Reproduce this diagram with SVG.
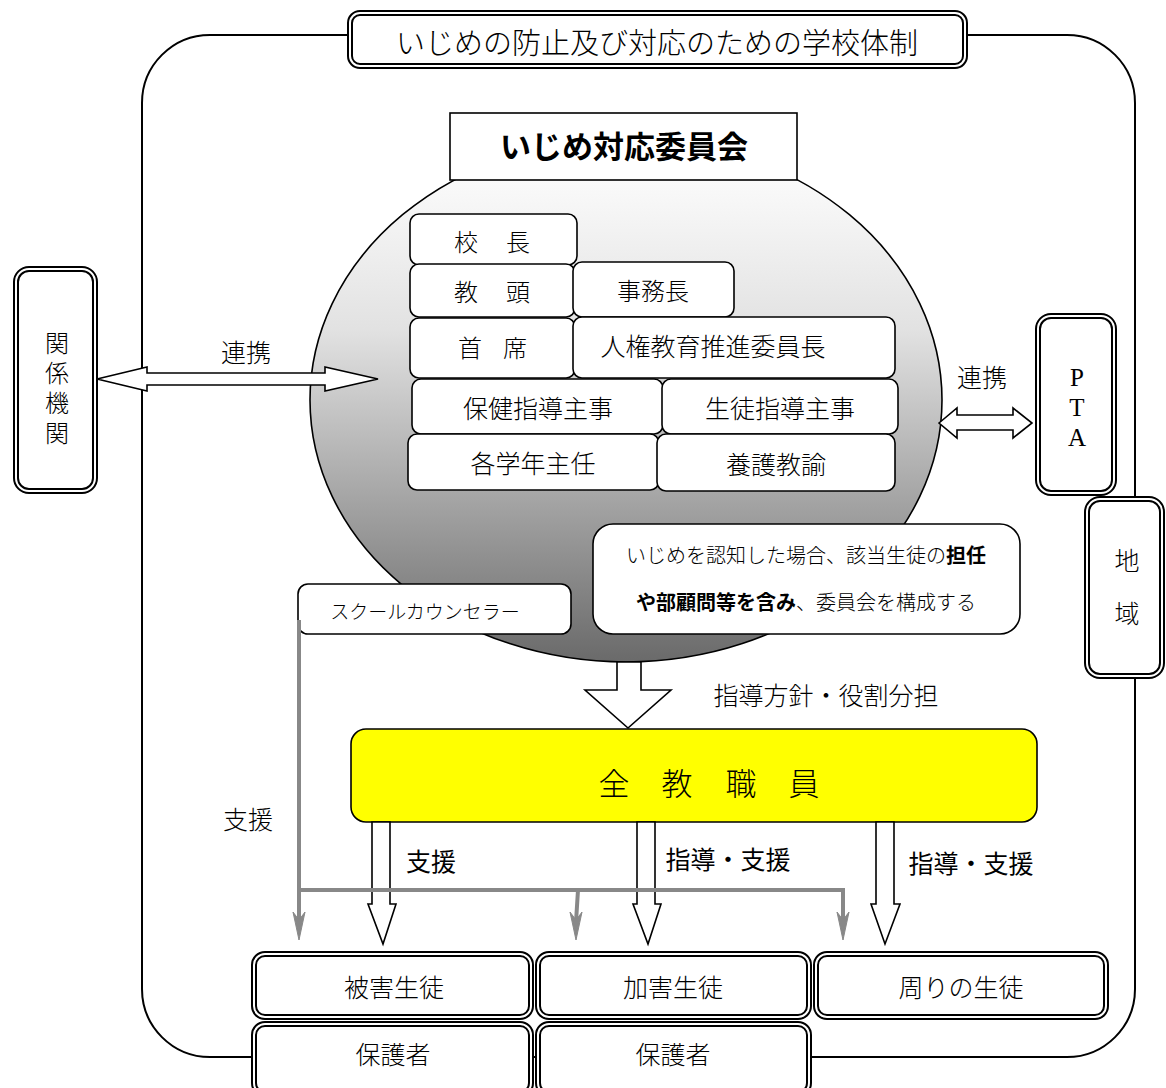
<svg xmlns="http://www.w3.org/2000/svg" width="1166" height="1088" viewBox="0 0 1166 1088">
<defs>
<linearGradient id="gc" gradientUnits="userSpaceOnUse" x1="0" y1="150" x2="0" y2="662">
<stop offset="0" stop-color="#ffffff"/>
<stop offset="0.35" stop-color="#e2e2e2"/>
<stop offset="1" stop-color="#6a6a6a"/>
</linearGradient>
<style>
.t{font-family:"Noto Sans CJK JP","Noto Sans",sans-serif;font-weight:300;fill:#000;dominant-baseline:central;text-anchor:middle}
.b{font-weight:700}
.m{font-weight:400}
.ser{font-family:"Liberation Serif","Noto Sans CJK JP",serif;font-weight:400}
.v{writing-mode:vertical-rl;text-orientation:upright}
.box{fill:#fff;stroke:#000;stroke-width:1.6}
.dO{fill:#fff;stroke:#000;stroke-width:6}
.dI{fill:none;stroke:#fff;stroke-width:2}
.ha{fill:#fff;stroke:#000;stroke-width:1.6;stroke-linejoin:miter}
.gl{fill:none;stroke:#888;stroke-width:4}
.gh{fill:#888;stroke:#888;stroke-width:1}
</style>
</defs>

<!-- outer frame -->
<path d="M210,35 H1067 A68,68 0 0 1 1135,103 V989 A68,68 0 0 1 1067,1057 H210 A68,68 0 0 1 142,989 V103 A68,68 0 0 1 210,35 Z" fill="none" stroke="#000" stroke-width="2"/>

<g id="title">
<rect class="dO" x="350" y="13" width="615" height="53" rx="10"/>
<rect class="dI" x="350" y="13" width="615" height="53" rx="10"/>
<text class="t" x="657" y="41" font-size="29">いじめの防止及び対応のための学校体制</text>
</g>

<g id="committee">
<ellipse cx="626" cy="400" rx="316" ry="262" fill="url(#gc)" stroke="#000" stroke-width="1.6"/>
<rect x="450" y="113" width="347" height="67" fill="#fff" stroke="#000" stroke-width="1.6"/>
<text class="t b" x="624" y="144" font-size="31">いじめ対応委員会</text>
</g>

<g id="m-kocho"><rect class="box" x="410" y="214" width="167" height="51" rx="9"/><text class="t" font-size="24" x="466 492 518" y="240">校　長</text></g>
<g id="m-kyoto"><rect class="box" x="410" y="264" width="165" height="53" rx="9"/><text class="t" font-size="24" x="466 492 518" y="290">教　頭</text></g>
<g id="m-jimucho"><rect class="box" x="573" y="262" width="161" height="55" rx="9"/><text class="t" font-size="24" x="653" y="289">事務長</text></g>
<g id="m-shuseki"><rect class="box" x="410" y="318" width="165" height="60" rx="9"/><text class="t" font-size="24" x="470 492 515" y="346">首　席</text></g>
<g id="m-jinken"><rect class="box" x="573" y="317" width="322" height="61" rx="9"/><text class="t" font-size="25" x="713" y="345">人権教育推進委員長</text></g>
<g id="m-hoken"><rect class="box" x="412" y="379" width="251" height="55" rx="9"/><text class="t" font-size="25" x="538" y="407">保健指導主事</text></g>
<g id="m-seito"><rect class="box" x="662" y="379" width="236" height="55" rx="9"/><text class="t" font-size="25" x="780" y="407">生徒指導主事</text></g>
<g id="m-gakunen"><rect class="box" x="408" y="434" width="251" height="56" rx="9"/><text class="t" font-size="25" x="533" y="462">各学年主任</text></g>
<g id="m-yogo"><rect class="box" x="657" y="434" width="238" height="57" rx="9"/><text class="t" font-size="25" x="776" y="463">養護教諭</text></g>

<g id="note">
<rect class="box" x="593" y="524" width="427" height="110" rx="20"/>
<text class="t" font-size="20" x="806" y="554"><tspan>いじめを認知した場合、該当生徒の</tspan><tspan font-weight="700">担任</tspan></text>
<text class="t" font-size="20" x="806" y="601"><tspan font-weight="700">や部顧問等を含み</tspan><tspan>、委員会を構成する</tspan></text>
</g>

<g id="counselor">
<rect class="box" x="298" y="584" width="273" height="50" rx="10"/>
<text class="t" font-size="19" x="425" y="610">スクールカウンセラー</text>
</g>

<g id="kankei">
<rect class="dO" x="16" y="269" width="79" height="222" rx="13"/>
<rect class="dI" x="16" y="269" width="79" height="222" rx="13"/>
<text class="t v" font-size="24" letter-spacing="6" x="57" y="391">関係機関</text>
</g>

<g id="pta">
<rect class="dO" x="1038" y="316" width="76" height="177" rx="13"/>
<rect class="dI" x="1038" y="316" width="76" height="177" rx="13"/>
<text class="t ser v" font-size="25" letter-spacing="3" x="1077" y="409">PTA</text>
</g>

<g id="chiiki">
<rect class="dO" x="1087" y="499" width="75" height="177" rx="13"/>
<rect class="dI" x="1087" y="499" width="75" height="177" rx="13"/>
<text class="t v" font-size="25" letter-spacing="28" x="1127" y="601">地域</text>
</g>

<g id="zenkyoshokuin">
<rect x="351" y="729" width="686" height="93" rx="15" fill="#ffff00" stroke="#000" stroke-width="1.6"/>
<text class="t" font-size="31" x="614 645.5 677 709 741 772.5 804" y="781">全　教　職　員</text>
</g>

<g id="higai"><rect class="dO" x="254" y="954" width="277" height="63" rx="11"/><rect class="dI" x="254" y="954" width="277" height="63" rx="11"/><text class="t" font-size="25" x="394" y="986">被害生徒</text></g>
<g id="kagai"><rect class="dO" x="538" y="954" width="271" height="63" rx="11"/><rect class="dI" x="538" y="954" width="271" height="63" rx="11"/><text class="t" font-size="25" x="673" y="986">加害生徒</text></g>
<g id="mawari"><rect class="dO" x="816" y="954" width="290" height="63" rx="11"/><rect class="dI" x="816" y="954" width="290" height="63" rx="11"/><text class="t" font-size="25" x="961" y="986">周りの生徒</text></g>
<g id="hogosha1"><rect class="dO" x="254" y="1024" width="277" height="70" rx="11"/><rect class="dI" x="254" y="1024" width="277" height="70" rx="11"/><text class="t" font-size="25" x="393" y="1053">保護者</text></g>
<g id="hogosha2"><rect class="dO" x="538" y="1024" width="271" height="70" rx="11"/><rect class="dI" x="538" y="1024" width="271" height="70" rx="11"/><text class="t" font-size="25" x="673" y="1053">保護者</text></g>

<g id="connectors">
<!-- 関係機関 <-> committee -->
<polygon class="ha" points="97,379 147,367 147,373 325,373 325,367 378,379 325,391 325,385 147,385 147,391"/>
<text class="t" font-size="25" x="246" y="351">連携</text>
<!-- committee <-> PTA -->
<polygon class="ha" points="939,423 957,408 957,415 1013,415 1013,408 1032,423 1013,438 1013,430 957,430 957,438"/>
<text class="t" font-size="25" x="982" y="376">連携</text>
<!-- committee -> all staff -->
<polygon class="ha" points="617,662 641,662 641,690 671,690 628,728 585,690 617,690"/>
<text class="t" font-size="25" x="826" y="694">指導方針・役割分担</text>
<!-- all staff -> students -->
<polygon class="ha" points="372,822 390,822 390,904 396,904 383,944 368,904 372,904"/>
<text class="t m" font-size="25" x="431" y="860">支援</text>
<polygon class="ha" points="637,822 655,822 655,904 661,904 648,944 633,904 637,904"/>
<text class="t m" font-size="25" x="728" y="858">指導・支援</text>
<polygon class="ha" points="876,822 894,822 894,904 900,904 885,944 871,904 876,904"/>
<text class="t m" font-size="25" x="971" y="862">指導・支援</text>
<!-- counselor support -->
<path class="gl" d="M299,620 V922"/>
<path class="gl" d="M297,890 H843 V922"/>
<path class="gl" d="M578,890 L576,922"/>
<path class="gh" d="M299,940 L293,912 L299,920 L305,912 Z"/>
<path class="gh" d="M576,940 L570,912 L576,920 L582,912 Z"/>
<path class="gh" d="M843,940 L837,912 L843,920 L849,912 Z"/>
<text class="t" font-size="25" x="248" y="818">支援</text>
</g>
</svg>
